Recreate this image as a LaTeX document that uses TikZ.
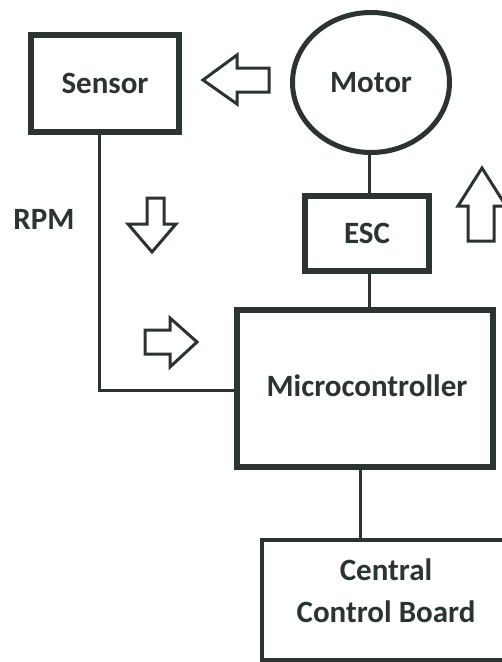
\documentclass[tikz,border=0pt]{standalone}
\usepackage{fontspec}
\setmainfont{Carlito}
\usetikzlibrary{shapes.geometric}
\definecolor{ink}{HTML}{2B3431}
\tikzset{
  lbl/.style={font=\fontsize{31}{42}\selectfont\bfseries, text=ink, inner sep=0pt, align=center},
  thickbox/.style={draw=ink, line width=6pt, fill=white},
  thinbox/.style={draw=ink, line width=4pt},
  wire/.style={draw=ink, line width=3pt},
  fatarrow/.style={draw=ink, line width=3pt, fill=white, line join=miter}
}
\begin{document}
\begin{tikzpicture}[x=1pt,y=-1pt]
\useasboundingbox (0,0) rectangle (502,662);
\clip (0,0) rectangle (502,662);
\fill[white] (0,0) rectangle (502,662);
% boxes
\node[thickbox, minimum width=148pt, minimum height=97pt, inner sep=0pt] (sensor) at (105,83.5) {};
\node[lbl] at (sensor.center) {Sensor};
\node[draw=ink, line width=5pt, ellipse, minimum width=157pt, minimum height=140pt, inner sep=0pt] (motor) at (371,82.5) {};
\node[lbl] at (motor.center) {Motor};
\node[thickbox, minimum width=124pt, minimum height=75pt, inner sep=0pt] (esc) at (367,233.5) {};
\node[lbl] at (esc.center) {ESC};
\node[thickbox, minimum width=256pt, minimum height=157pt, inner sep=0pt] (mcu) at (365,388.5) {};
\node[lbl] at (367,386) {Microcontroller};
\node[thinbox, minimum width=260pt, minimum height=120pt, inner sep=0pt, anchor=north west] (ccb) at (260,538) {};
\node[lbl] (ccbtxt) at (386,591) {Central\\Control Board};
\node[lbl] (rpm) at (44,219) {RPM};
% connectors
\coordinate (corner) at (99,390);
\draw[wire] (motor.south -| esc.north) ++(2,0) coordinate (m1) -- (m1 |- esc.north);
\draw[wire] (369,274) -- (369,310) coordinate (e1);
\draw[wire] (sensor.south -| corner) -- (corner) -- (corner -| mcu.west);
\draw[wire] (mcu.south -| 360,0) -- (ccb.north -| 360,0);
% fat arrows
\draw[fatarrow] (203,80) -- (237,55) -- (237,68) -- (269,68) -- (269,92) -- (237,92) -- (237,104) -- cycle;
\draw[fatarrow] (152,252) -- (128,224) -- (147,224) -- (147,198) -- (164,198) -- (164,224) -- (176,224) -- cycle;
\draw[fatarrow] (197,342) -- (170,318) -- (170,330) -- (145,330) -- (145,354) -- (170,354) -- (170,367) -- cycle;
\draw[fatarrow] (482,168) -- (458,206) -- (468,206) -- (468,241) -- (494,241) -- (494,206) -- (506,206) -- cycle;
\end{tikzpicture}
\end{document}
